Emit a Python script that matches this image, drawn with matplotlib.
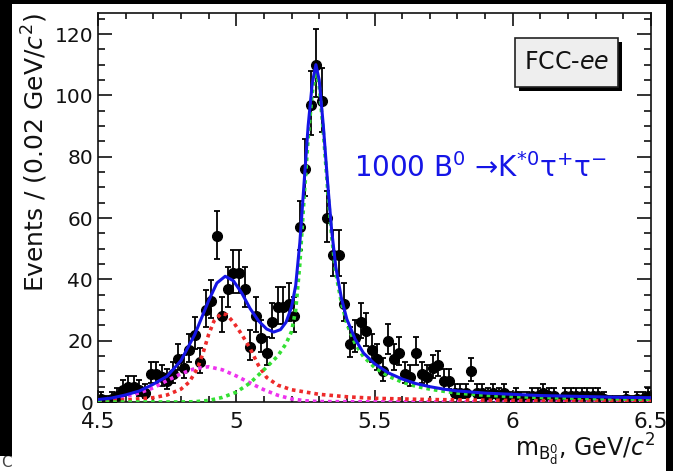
import numpy as np
import matplotlib
matplotlib.use('Agg')
import matplotlib.pyplot as plt
from matplotlib.patches import Rectangle
from matplotlib.ticker import FixedLocator, MultipleLocator, FixedFormatter

plt.rcParams['font.family'] = ['DejaVu Sans']
plt.rcParams['mathtext.fontset'] = 'dejavusans'

# ---------------- data ----------------
bin_lo, bin_hi, n_bins = 4.5, 6.5, 100
counts = [1, 0, 1, 2, 4, 5, 5, 4, 3, 9,
          9, 8, 7, 9, 14, 11, 17, 22, 13, 30,
          33, 54, 28, 37, 42, 42, 37, 18, 28, 21,
          16, 26, 31, 31, 32, 28, 57, 76, 97, 110,
          98, 60, 48, 48, 32, 19, 21, 26, 23, 17,
          14, 10, 20, 14, 16, 9, 8, 16, 9, 8,
          11, 12, 7, 7, 3, 3, 3, 10, 3, 3,
          2, 3, 2, 3, 1, 2, 1, 1, 2, 2,
          3, 2, 2, 0, 2, 2, 2, 2, 2, 2,
          2, 1, 0, 0, 0, 1, 0, 1, 1, 2]

total_x = [4.50, 4.55, 4.60, 4.65, 4.70, 4.75, 4.80, 4.85, 4.90, 4.93,
           4.96, 4.99, 5.02, 5.05, 5.08, 5.11, 5.135, 5.16, 5.18, 5.20,
           5.215, 5.23, 5.245, 5.26, 5.275, 5.288, 5.30, 5.315, 5.33, 5.345,
           5.36, 5.38, 5.40, 5.43, 5.46, 5.50, 5.55, 5.60, 5.65, 5.70,
           5.75, 5.80, 5.90, 6.00, 6.10, 6.20, 6.30, 6.40, 6.50]
total_y = [0.8, 1.3, 2.3, 3.6, 5.8, 8.4, 13.5, 22.0, 33.0, 38.8,
           41.0, 39.5, 35.5, 30.5, 26.5, 23.8, 22.8, 23.6, 26.0, 31.0,
           38.0, 52.0, 71.0, 90.0, 104.0, 110.0, 105.0, 90.0, 72.0, 56.0,
           44.0, 34.0, 27.0, 20.5, 16.0, 12.5, 9.5, 7.5, 6.0, 5.0,
           4.2, 3.6, 2.9, 2.5, 2.1, 1.9, 1.7, 1.5, 1.4]

signal_x = [4.50, 4.80, 4.85, 4.90, 4.95, 5.00, 5.05, 5.10, 5.15, 5.18,
            5.20, 5.215, 5.23, 5.245, 5.26, 5.275, 5.288, 5.30, 5.315, 5.33,
            5.345, 5.36, 5.38, 5.40, 5.43, 5.46, 5.50, 5.55, 5.60, 5.65,
            5.70, 5.75, 5.80, 5.90, 6.00, 6.10, 6.20, 6.30, 6.40, 6.50]
signal_y = [0.0, 0.0, 0.1, 0.5, 1.5, 3.2, 6.2, 10.5, 15.0, 19.0,
            23.0, 30.0, 45.0, 66.0, 86.0, 101.0, 108.0, 103.0, 88.0, 70.0,
            54.0, 42.0, 32.5, 25.5, 19.0, 14.8, 11.3, 8.4, 6.5, 5.1,
            4.2, 3.5, 2.9, 2.2, 1.8, 1.5, 1.3, 1.1, 1.0, 0.9]

red_x = [4.50, 4.60, 4.70, 4.75, 4.80, 4.83, 4.86, 4.88, 4.90, 4.92,
         4.945, 4.965, 4.99, 5.02, 5.05, 5.08, 5.11, 5.15, 5.20, 5.30,
         5.40, 5.50, 5.70, 6.00, 6.50]
red_y = [0.3, 0.7, 1.4, 2.3, 4.2, 6.5, 11.0, 16.0, 22.0, 26.5,
         28.8, 28.5, 26.0, 22.0, 17.5, 12.0, 8.0, 5.5, 4.0, 2.5,
         1.7, 1.2, 0.8, 0.5, 0.3]

mag_x = [4.50, 4.55, 4.60, 4.65, 4.70, 4.75, 4.80, 4.85, 4.90, 4.95,
         5.00, 5.05, 5.10, 5.15, 5.20, 5.25, 5.30, 5.50, 6.50]
mag_y = [0.5, 1.0, 1.8, 3.0, 4.6, 7.0, 9.2, 10.9, 11.5, 10.5,
         8.5, 6.2, 4.0, 2.2, 1.0, 0.4, 0.15, 0.05, 0.0]

x_major = [4.5, 5.0, 5.5, 6.0, 6.5]
x_labels = ['4.5', '5', '5.5', '6', '6.5']
y_major = [0, 20, 40, 60, 80, 100, 120]
y_labels = ['0', '20', '40', '60', '80', '100', '120']

# ---------------- figure ----------------
W, H = 673, 471
fig = plt.figure(figsize=(W / 100, H / 100), dpi=100)
fig.patch.set_facecolor('white')

L, R, T, B = 98, 651, 13, 402
ax = fig.add_axes([L / W, 1 - B / H, (R - L) / W, (B - T) / H])

edges = np.linspace(bin_lo, bin_hi, n_bins + 1)
centers = 0.5 * (edges[:-1] + edges[1:])
N = np.array(counts, dtype=float)
err_lo = np.where(N > 0, np.sqrt(np.clip(N - 0.25, 0, None)), 0.0)
err_hi = np.sqrt(N + 0.75) + 1.0

ax.errorbar(centers, N, yerr=[err_lo, err_hi], fmt='o', color='black',
            ms=7, elinewidth=1.3, capsize=2.0, capthick=1.3, zorder=2)

dot = (0, (1.0, 1.1))
ax.plot(mag_x, mag_y, color='#ee33ee', lw=2.6, ls=dot, zorder=3)
ax.plot(red_x, red_y, color='#ee2a2a', lw=2.6, ls=dot, zorder=3)
ax.plot(signal_x, signal_y, color='#33e033', lw=2.6, ls=dot, zorder=3)
ax.plot(total_x, total_y, color='#1515e6', lw=2.2, zorder=4)

ax.set_xlim(bin_lo, bin_hi)
ax.set_ylim(0, (B - T) / ((B - 34) / 120.0))

ax.xaxis.set_major_locator(FixedLocator(x_major))
ax.xaxis.set_major_formatter(FixedFormatter(x_labels))
ax.xaxis.set_minor_locator(MultipleLocator(0.1))
ax.yaxis.set_major_locator(FixedLocator(y_major))
ax.yaxis.set_major_formatter(FixedFormatter(y_labels))
ax.yaxis.set_minor_locator(MultipleLocator(5))

ax.tick_params(axis='both', which='both', direction='in', top=True, right=True,
               width=1.2, colors='#111111')
ax.tick_params(axis='x', which='major', length=9, pad=7.3, labelsize=15.5)
ax.tick_params(axis='x', which='minor', length=4.5)
ax.tick_params(axis='y', which='major', length=10, pad=3.5, labelsize=14.5)
ax.tick_params(axis='y', which='minor', length=5)
for s in ax.spines.values():
    s.set_linewidth(1.2)
    s.set_color('#111111')

# FCC-ee box with shadow
bx0, bx1 = (514.7 - L) / (R - L), (618 - L) / (R - L)
by0, by1 = (B - 86.7) / (B - T), (B - 37.5) / (B - T)
sdx, sdy = 4 / (R - L), 4 / (B - T)
ax.add_patch(Rectangle((bx0 + sdx, by0 - sdy), bx1 - bx0, by1 - by0,
                       transform=ax.transAxes, facecolor='black',
                       edgecolor='none', zorder=5))
ax.add_patch(Rectangle((bx0, by0), bx1 - bx0, by1 - by0,
                       transform=ax.transAxes, facecolor='#eeeeee',
                       edgecolor='#222222', lw=1.2, zorder=6))
ax.text((bx0 + bx1) / 2, (by0 + by1) / 2, 'FCC-$ee$', transform=ax.transAxes,
        ha='center', va='center', fontsize=17, color='#111111', zorder=7)

ax.text((354 - L) / (R - L), (B - 177) / (B - T),
        '1000 B$^{0}$ \u2192K$^{*0}$\u03c4$^{+}$\u03c4$^{-}$',
        transform=ax.transAxes, ha='left', va='baseline',
        fontsize=20, color='#1515e6', zorder=7)

fig.text(35 / W, 1 - 13 / H, 'Events / (0.02 GeV/$c^{2}$)', rotation=90,
         ha='center', va='top', fontsize=18, color='#111111')
fig.text(655 / W, 1 - 457 / H, 'm$_{\\mathrm{B}_{\\mathrm{d}}^{0}}$, GeV/$c^{2}$',
         ha='right', va='baseline', fontsize=17, color='#111111')

# black borders of the screenshot
fig.patches.append(Rectangle((0, 1 - 4 / H), 1, 4 / H, transform=fig.transFigure,
                             facecolor='black', edgecolor='none', zorder=10))
fig.patches.append(Rectangle((0, 1 - 456 / H), 12 / W, 456 / H, transform=fig.transFigure,
                             facecolor='black', edgecolor='none', zorder=10))
fig.patches.append(Rectangle((666 / W, 0), 7 / W, 1, transform=fig.transFigure,
                             facecolor='black', edgecolor='none', zorder=10))
fig.text(1 / W, 1 / H, 'C', fontsize=11, color='#444444', ha='left', va='bottom')

fig.savefig('out.png', dpi=100)
